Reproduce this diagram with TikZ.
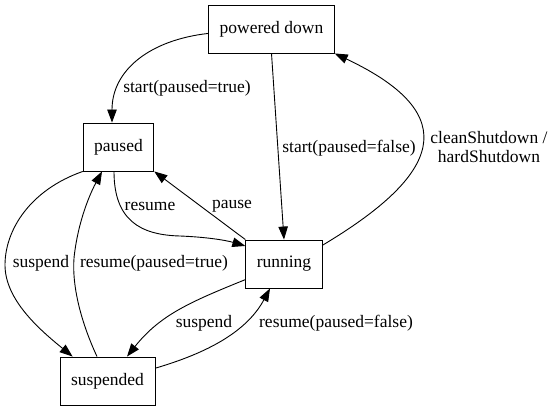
\documentclass[tikz,border=0pt]{standalone}
\usepackage{fontspec}
\setmainfont{LiberationSerif}[Extension=.ttf, UprightFont=*-Regular, BoldFont=*-Bold]
\usetikzlibrary{arrows.meta}

\tikzset{
  state/.style={draw, line width=0.9pt, inner xsep=11pt, minimum height=48pt,
    font=\rmfamily\fontsize{17.5}{19.5}\selectfont},
  lbl/.style={inner sep=0pt, font=\rmfamily\fontsize{17.5}{19.5}\selectfont, align=center},
  edge/.style={line width=0.9pt, -{Triangle[length=13pt,width=9.5pt]}}
}

\begin{document}
\begin{tikzpicture}[x=1pt, y=-1pt]
\useasboundingbox (0,0) rectangle (556,411);
\node[state] (down) at (271.5,29) {powered down};
\node[state] (paused) at (118.5,147) {paused};
\node[state] (running) at (284,264) {running};
\node[state] (suspended) at (107.5,381) {suspended};
% edge labels
\node[lbl] (l-startp) at (187,88) {start(paused=true)};
\node[lbl] (l-startr) at (349,148) {start(paused=false)};
\node[lbl] (l-shut) at (489,147) {cleanShutdown /\\hardShutdown};
\node[lbl] (l-resume) at (150,206) {resume};
\node[lbl] (l-pause) at (232,206) {pause};
\node[lbl] (l-susp1) at (41,263) {suspend};
\node[lbl] (l-resp) at (154,263) {resume(paused=true)};
\node[lbl] (l-susp2) at (204,323) {suspend};
\node[lbl] (l-resr) at (336,323) {resume(paused=false)};
% transitions
\draw[edge] (down.184) .. controls (150,40) and (112,70) .. ([xshift=-6.5pt]paused.north);
\draw[edge] (down.south) -- (running.north);
\draw[edge] (running.26) .. controls (440,175) and (465,115) .. (down.south east);
\draw[edge] ([xshift=-4.5pt]paused.south) .. controls (114,220) and (140,235) .. (180,236)
  .. controls (205,237) and (225,240) .. (running.155);
\draw[edge] (running.north west) -- (paused.south east);
\draw[edge] (paused.south west) .. controls (30,190) and (5,230) .. (5,265)
  .. controls (5,300) and (40,330) .. ([xshift=13pt]suspended.north west);
\draw[edge] ([xshift=-10.5pt]suspended.north) .. controls (80,320) and (70,280) .. (75,250)
  .. controls (80,215) and (92,190) .. ([xshift=-16.5pt]paused.south);
\draw[edge] (running.202) .. controls (190,302) and (160,315) .. ([xshift=19.5pt]suspended.north);
\draw[edge] (suspended.15) .. controls (200,355) and (245,335) .. ([xshift=-14pt]running.south);
\end{tikzpicture}
\end{document}
